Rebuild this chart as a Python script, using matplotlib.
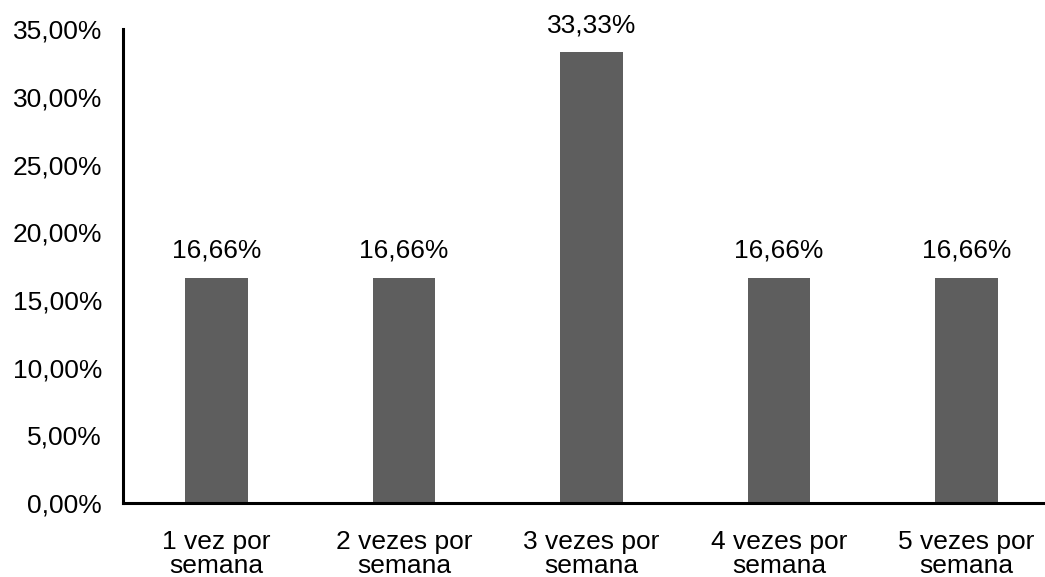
import numpy as np
import matplotlib.pyplot as plt

categories = ['1 vez por\nsemana', '2 vezes por\nsemana', '3 vezes por\nsemana',
              '4 vezes por\nsemana', '5 vezes por\nsemana']
values = [16.66, 16.66, 33.33, 16.66, 16.66]
yticks = [0, 5, 10, 15, 20, 25, 30, 35]

plt.rcParams['font.family'] = ['Liberation Sans', 'DejaVu Sans']
plt.rcParams['font.size'] = 19

fig = plt.figure(figsize=(10.45, 5.77), dpi=100)
# the plot area runs slightly past the right edge of the picture, as in the original
ax = fig.add_axes([0.1175, 0.128, 0.897, 0.821])

x = np.arange(len(categories))
ax.bar(x, values, width=0.333, color='#5e5e5e')
for xi, v in zip(x, values):
    ax.text(xi, v + 1.1, f'{v:.2f}%'.replace('.', ','), ha='center', va='bottom')

ax.set_xlim(-0.5, len(categories) - 0.5)
ax.set_ylim(0, 35)
ax.set_yticks(yticks)
ax.set_yticklabels([f'{t:.2f}%'.replace('.', ',') for t in yticks])
ax.set_xticks(x)
ax.set_xticklabels(categories, linespacing=1.02)
ax.tick_params(length=0)
ax.tick_params(axis='y', pad=15)
ax.tick_params(axis='x', pad=19)
for s in ['top', 'right']:
    ax.spines[s].set_visible(False)
for s in ['left', 'bottom']:
    ax.spines[s].set_linewidth(2.2)

fig.savefig('out.png')
